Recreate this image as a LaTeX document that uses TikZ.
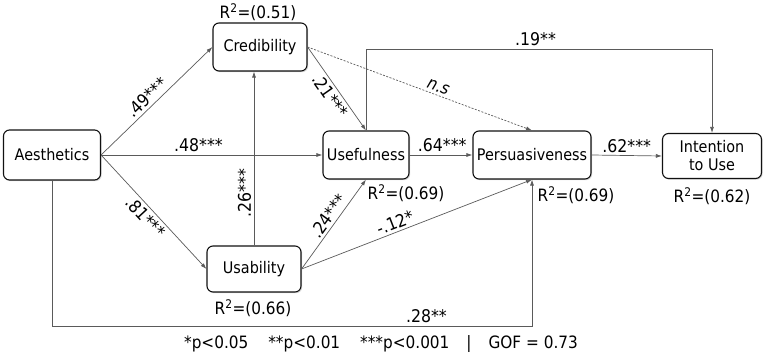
\documentclass[tikz,border=0pt]{standalone}
\usepackage{fontspec}
\setmainfont{DejaVu Sans Condensed}
\usetikzlibrary{arrows.meta,shadows}

\definecolor{pathgray}{HTML}{5A5A5A}
\definecolor{boxline}{HTML}{111111}

\tikzset{
  construct/.style={draw=boxline, line width=1.1pt, rounded corners=6pt, fill=white,
    align=center, inner sep=0pt, font=\fontsize{16}{18}\selectfont,
    drop shadow={shadow xshift=1.2pt, shadow yshift=-1.2pt, fill=black!30}},
  link/.style={draw=pathgray, line width=0.7pt, ->, >={Latex[length=6pt,width=4pt]}},
  coef/.style={font=\fontsize{17.5}{19}\selectfont, inner sep=2.5pt},
  rsq/.style={font=\fontsize{17}{19}\selectfont, inner sep=0pt}
}

\begin{document}
\begin{tikzpicture}[x=1pt, y=-1pt]
\useasboundingbox (0,0) rectangle (765,358);

% Constructs
\node[construct, minimum width=97pt, minimum height=50pt] (aes) at (52,155) {Aesthetics};
\node[construct, minimum width=94pt, minimum height=48pt] (cred) at (260,47) {Credibility};
\node[construct, minimum width=86pt, minimum height=48pt] (use) at (366,155) {Usefulness};
\node[construct, minimum width=118pt, minimum height=48pt] (pers) at (532,155) {Persuasiveness};
\node[construct, minimum width=99pt, minimum height=45pt] (intent) at (712,156) {Intention\\to Use};
\node[construct, minimum width=94pt, minimum height=46pt] (usab) at (254,269) {Usability};

% Explained variance
\node[rsq] (credr2) at (258,12) {R\textsuperscript{2}=(0.51)};
\node[rsq] (user2) at (406,193) {R\textsuperscript{2}=(0.69)};
\node[rsq] (persr2) at (576,195) {R\textsuperscript{2}=(0.69)};
\node[rsq] (intentr2) at (712,196) {R\textsuperscript{2}=(0.62)};
\node[rsq] (usabr2) at (253,308) {R\textsuperscript{2}=(0.66)};

% Helper coordinates for the elbow paths
\coordinate (topline) at (0,49);
\coordinate (bottomline) at (0,326);

% Paths from Aesthetics
\draw[link] (aes.east) -- node[coef, sloped, above, pos=.47] {.49***} (cred.west);
\draw[link] (aes.east) -- node[coef, above, pos=.44] {.48***} (use.west);
\draw[link] (aes.east) -- node[coef, sloped, below, pos=.49] {.81***} (usab.west);
\draw[link] (aes.south) -- (aes.south |- bottomline)
  -- node[coef, above, pos=.78] {.28**} (bottomline -| pers.south) -- (pers.south);

% Paths from Credibility and Usability
\draw[link] (usab.north -| 254,0) -- node[coef, sloped, above, pos=.30] {.26***} (cred.south -| 254,0);
\draw[link] (cred.east) -- node[coef, sloped, below, pos=.52] {.21***} (use.north);
\draw[link, dashed, dash pattern=on 2pt off 1.5pt] (cred.east)
  -- node[coef, sloped, above, pos=.57, font=\fontsize{17}{19}\selectfont\itshape] {n.s} (pers.north);
\draw[link] (usab.east) -- node[coef, sloped, above, pos=.53] {.24***} (use.south);
\draw[link] (usab.east) -- node[coef, sloped, above, pos=.42] {-.12*} (pers.south);

% Paths to Intention to Use
\draw[link] (use.north) -- (use.north |- topline)
  -- node[coef, above, pos=.49] {.19**} (topline -| intent.north) -- (intent.north);
\draw[link] (use.east) -- node[coef, above, pos=.52] {.64***} (pers.west);
\draw[link] (pers.east) -- node[coef, above, pos=.5] {.62***} (intent.west);

% Legend
\node[font=\fontsize{17}{19}\selectfont] (legend) at (381,344)
  {*p<0.05\hspace{20pt}**p<0.01\hspace{20pt}***p<0.001\hspace{17pt}|\hspace{17pt}GOF = 0.73};

\end{tikzpicture}
\end{document}
